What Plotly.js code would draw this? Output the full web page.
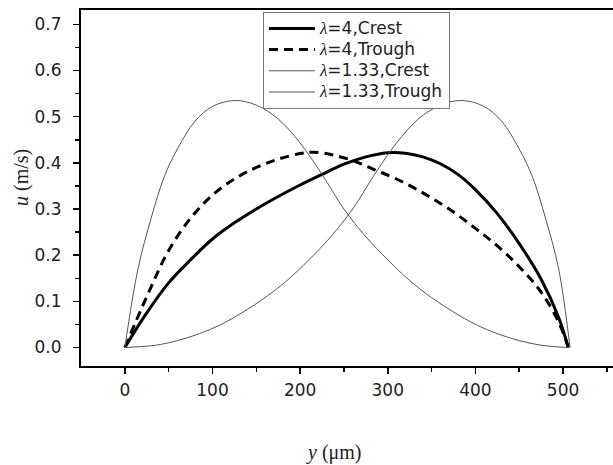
<!DOCTYPE html>
<html>
<head>
<meta charset="utf-8">
<script src="https://cdn.plot.ly/plotly-3.0.1.min.js"></script>
<style>html,body{margin:0;padding:0;background:#fff}#chart{width:613px;height:465px}</style>
</head>
<body>
<div id="chart"></div>
<script>
// λ=4, Crest (thick solid)
const xCrest4 = [0, 25, 50, 75, 100, 125, 150, 175, 200, 225, 250, 275, 300, 320, 340, 360, 380, 400, 425, 450, 475, 495, 506];
const uCrest4 = [0, 0.075, 0.14, 0.19, 0.235, 0.27, 0.30, 0.327, 0.352, 0.375, 0.397, 0.413, 0.422, 0.421, 0.413, 0.398, 0.375, 0.342, 0.29, 0.225, 0.148, 0.065, 0];
// λ=4, Trough (thick dashed)
const xTrough4 = [0, 25, 50, 75, 100, 125, 150, 175, 200, 215, 235, 260, 285, 310, 340, 370, 400, 425, 450, 475, 495, 506];
const uTrough4 = [0, 0.11, 0.21, 0.28, 0.33, 0.365, 0.39, 0.408, 0.42, 0.423, 0.418, 0.405, 0.385, 0.365, 0.335, 0.30, 0.258, 0.22, 0.175, 0.12, 0.055, 0];
// λ=1.33, Crest (thin)
const xCrest133 = [0, 35, 60, 85, 110, 135, 160, 185, 210, 235, 260, 285, 310, 335, 360, 385, 410, 430, 450, 465, 480, 495, 508];
const uCrest133 = [0, 0.005, 0.015, 0.03, 0.05, 0.077, 0.108, 0.145, 0.19, 0.24, 0.30, 0.375, 0.443, 0.495, 0.525, 0.535, 0.522, 0.49, 0.43, 0.37, 0.28, 0.17, 0];
// λ=1.33, Trough (thin)
const xTrough133 = [0, 15, 30, 45, 60, 80, 100, 125, 150, 175, 200, 225, 250, 275, 300, 325, 350, 375, 400, 425, 450, 475, 506];
const uTrough133 = [0, 0.17, 0.28, 0.37, 0.43, 0.49, 0.522, 0.535, 0.525, 0.495, 0.443, 0.375, 0.30, 0.24, 0.19, 0.145, 0.108, 0.077, 0.05, 0.03, 0.015, 0.005, 0];

const seriesNames = ['=4,Crest', '=4,Trough', '=1.33,Crest', '=1.33,Trough'];
const lam = '<span style="font-family:\'Liberation Serif\';font-style:italic">λ</span>';
const label = s => '<span style="font-size:17px">' + lam + s + '</span>';

const traces = [
  {x: xCrest4, y: uCrest4, name: label(seriesNames[0]), mode: 'lines',
   line: {color: '#000', width: 3, shape: 'spline', smoothing: 1}},
  {x: xTrough4, y: uTrough4, name: label(seriesNames[1]), mode: 'lines',
   line: {color: '#000', width: 3, dash: '9px,6px', shape: 'spline', smoothing: 1}},
  {x: xCrest133, y: uCrest133, name: label(seriesNames[2]), mode: 'lines',
   line: {color: '#555', width: 1, shape: 'spline', smoothing: 1}},
  {x: xTrough133, y: uTrough133, name: label(seriesNames[3]), mode: 'lines',
   line: {color: '#555', width: 1, shape: 'spline', smoothing: 1}}
];

const tickFont = {family: 'DejaVu Sans, Arial, sans-serif', size: 17, color: '#222'};

const layout = {
  width: 613, height: 465,
  margin: {l: 81, r: 0, t: 10, b: 99},
  paper_bgcolor: '#fff', plot_bgcolor: '#fff',
  showlegend: true,
  legend: {x: 0.342, y: 0.995, xanchor: 'left', yanchor: 'top',
    bgcolor: '#fff', bordercolor: '#777', borderwidth: 1,
    font: {family: 'DejaVu Sans, Arial, sans-serif', size: 14, color: '#222'},
    itemwidth: 46, tracegroupgap: 0},
  xaxis: {range: [-50, 557], tickvals: [0, 100, 200, 300, 400, 500],
    ticks: 'outside', ticklen: 6, tickwidth: 1.5, tickcolor: '#000',
    minor: {tickvals: [50, 150, 250, 350, 450, 550], ticks: 'outside', ticklen: 4, tickwidth: 1.5, tickcolor: '#000'},
    showline: true, linecolor: '#000', linewidth: 2, mirror: true,
    showgrid: false, zeroline: false, tickfont: tickFont, ticklabelstandoff: 2},
  yaxis: {range: [-0.04, 0.731], tickvals: [0, 0.1, 0.2, 0.3, 0.4, 0.5, 0.6, 0.7],
    ticktext: ['0.0', '0.1', '0.2', '0.3', '0.4', '0.5', '0.6', '0.7'],
    ticks: 'outside', ticklen: 6, tickwidth: 1.5, tickcolor: '#000',
    minor: {tickvals: [0.05, 0.15, 0.25, 0.35, 0.45, 0.55, 0.65], ticks: 'outside', ticklen: 4, tickwidth: 1.5, tickcolor: '#000'},
    showline: true, linecolor: '#000', linewidth: 2,
    showgrid: false, zeroline: false, tickfont: tickFont, ticklabelstandoff: 8},
  annotations: [
    {xref: 'paper', yref: 'paper', x: (334 - 81) / 532, y: -(452 - 366) / 356, xanchor: 'center', yanchor: 'middle',
     text: '<i>y</i> (μm)', showarrow: false,
     font: {family: 'Liberation Serif, Times New Roman, serif', size: 20, color: '#222'}},
    {xref: 'paper', yref: 'paper', x: -(81 - 21) / 532, y: (366 - 178) / 356, xanchor: 'center', yanchor: 'middle',
     text: '<i>u</i> (m/s)', textangle: -90, showarrow: false,
     font: {family: 'Liberation Serif, Times New Roman, serif', size: 20, color: '#222'}}
  ]
};

Plotly.newPlot('chart', traces, layout, {displayModeBar: false, staticPlot: true});
</script>
</body>
</html>
